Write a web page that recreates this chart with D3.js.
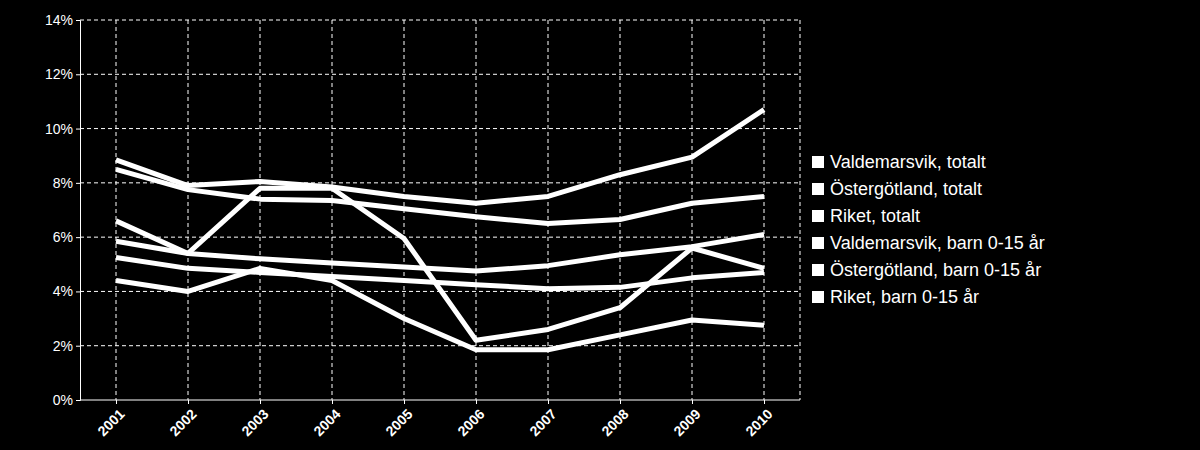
<!DOCTYPE html><html><head><meta charset="utf-8"><script src="https://cdn.jsdelivr.net/npm/d3@7"></script>
<style>body{margin:0;background:#000}</style></head><body><svg width="1200" height="450"></svg><script>
const years=["2001","2002","2003","2004","2005","2006","2007","2008","2009","2010"];
const seriesNames=["Valdemarsvik, totalt","Östergötland, totalt","Riket, totalt","Valdemarsvik, barn 0-15 år","Östergötland, barn 0-15 år","Riket, barn 0-15 år"];
const valdTot=[8.85,7.9,8.05,7.85,7.5,7.25,7.5,8.3,8.95,10.7];
const ostTot=[8.5,7.75,7.4,7.35,7.05,6.75,6.5,6.65,7.25,7.5];
const riketTot=[5.85,5.4,5.2,5.05,4.9,4.75,4.95,5.35,5.65,6.1];
const valdBarn=[6.6,5.4,7.8,7.8,5.95,2.2,2.6,3.4,5.6,4.85];
const ostBarn=[4.4,4.0,4.85,4.4,3.0,1.85,1.85,2.4,2.95,2.75];
const riketBarn=[5.25,4.85,4.7,4.55,4.4,4.25,4.1,4.15,4.5,4.7];
const yTicks=[0,2,4,6,8,10,12,14];
const all=[valdTot,ostTot,riketTot,valdBarn,ostBarn,riketBarn];
const svg=d3.select("svg");
const x=d3.scalePoint().domain(years).range([116,764]);
const y=d3.scaleLinear().domain([0,14]).range([400,20]);
const g=svg.append("g");
yTicks.forEach(t=>{if(t>0)g.append("line").attr("x1",80).attr("x2",800).attr("y1",y(t)).attr("y2",y(t)).attr("stroke","#fff").attr("stroke-dasharray","4,3");});
years.forEach(t=>g.append("line").attr("x1",x(t)).attr("x2",x(t)).attr("y1",20).attr("y2",400).attr("stroke","#fff").attr("stroke-dasharray","4,3"));
g.append("line").attr("x1",800).attr("x2",800).attr("y1",20).attr("y2",400).attr("stroke","#fff").attr("stroke-dasharray","4,3");
const ya=svg.append("g").attr("transform","translate(80,0)").call(d3.axisLeft(y).tickValues(yTicks).tickFormat(d=>d+"%").tickSize(4));
ya.selectAll("text").attr("fill","#fff").style("font-family","Liberation Sans, Arial").style("font-size","14px");
ya.selectAll("line,path").attr("stroke","#fff");
const xa=svg.append("g").attr("transform","translate(0,400)").call(d3.axisBottom(x).tickSize(4));
xa.select("path").attr("d","M80,0H800").attr("stroke","#fff");
xa.selectAll("line").attr("stroke","#fff");
xa.selectAll("text").attr("fill","#fff").style("font-family","Liberation Sans, Arial").style("font-size","14px").style("font-weight","bold")
 .attr("text-anchor","end").attr("dy","0").attr("transform","translate(4,10) rotate(-45)");
const line=d3.line().x((d,i)=>x(years[i])).y(d=>y(d));
all.forEach(s=>svg.append("path").attr("d",line(s)).attr("fill","none").attr("stroke","#fff").attr("stroke-width",5).attr("stroke-linejoin","round"));
seriesNames.forEach((n,i)=>{const yy=162+i*27;
svg.append("rect").attr("x",812).attr("y",yy-6).attr("width",12).attr("height",12).attr("fill","#fff");
svg.append("text").attr("x",830).attr("y",yy+6).attr("fill","#fff").style("font-family","Liberation Sans, Arial").style("font-size","18px").text(n);});
</script></body></html>
